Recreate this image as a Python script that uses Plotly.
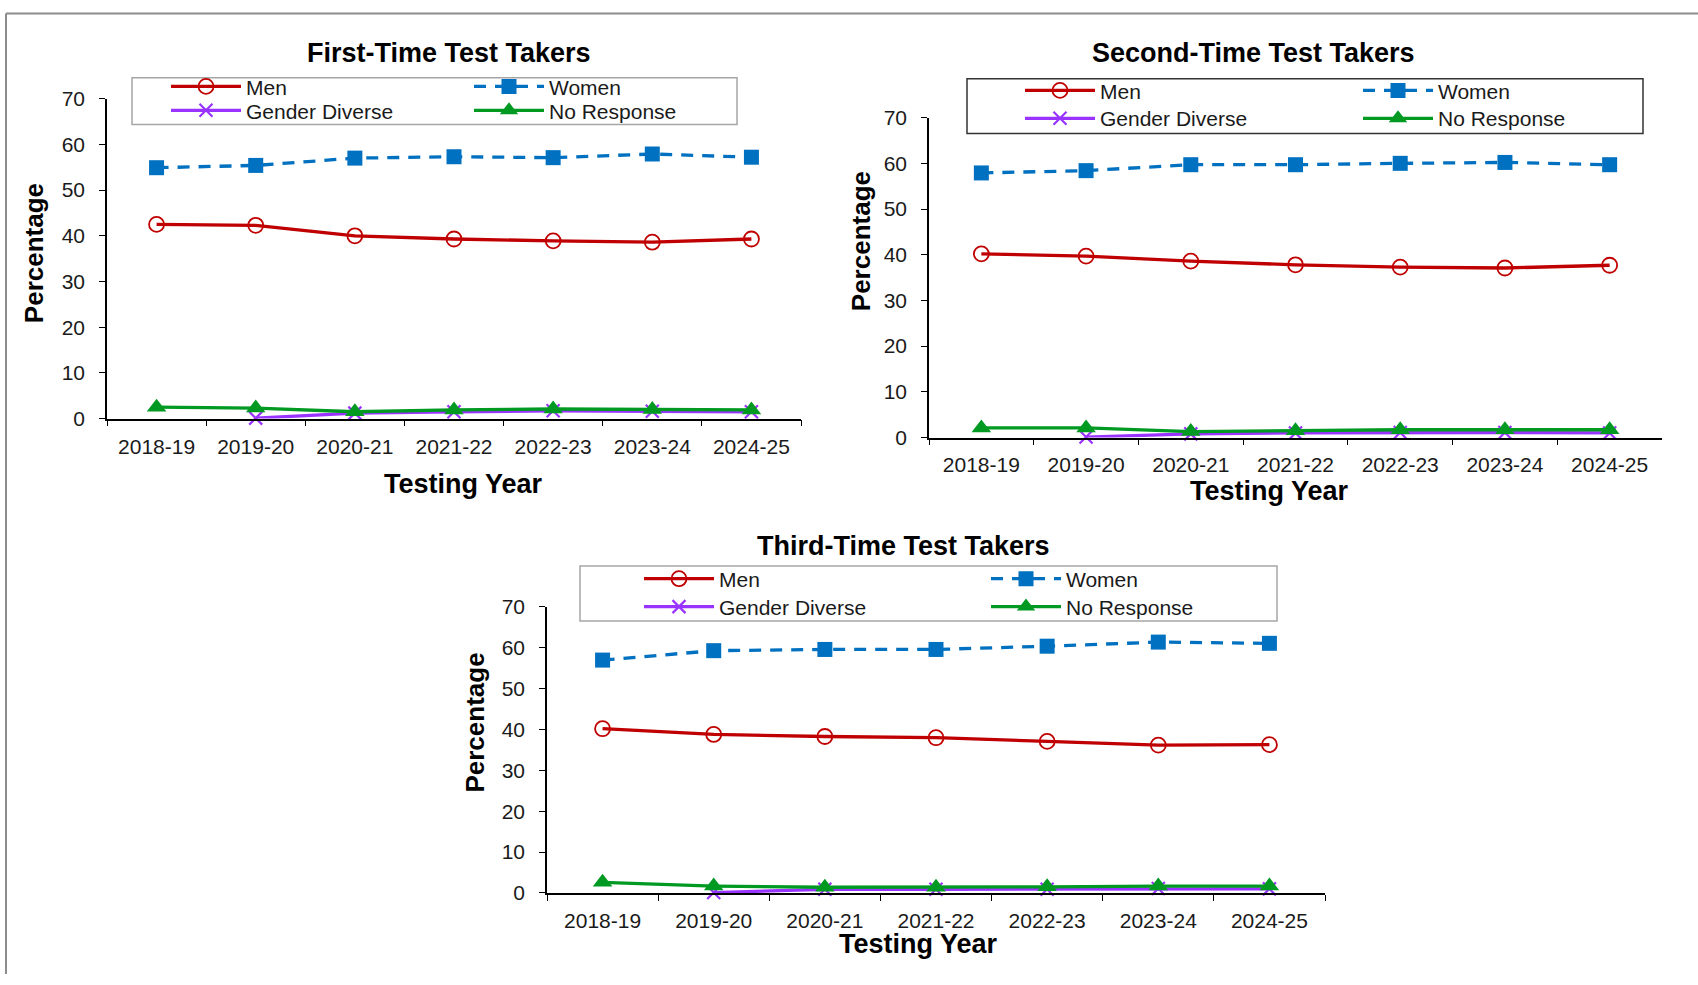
import plotly.graph_objects as go

W, H = 1698, 985

years = ["2018-19", "2019-20", "2020-21", "2021-22", "2022-23", "2023-24", "2024-25"]
series_names = ["Men", "Women", "Gender Diverse", "No Response"]
chart_titles = ["First-Time Test Takers", "Second-Time Test Takers", "Third-Time Test Takers"]

first_men = [42.5, 42.3, 40.0, 39.3, 38.9, 38.6, 39.3]
first_women = [54.9, 55.4, 57.0, 57.3, 57.1, 57.9, 57.2]
first_gd = [None, 0.1, 1.2, 1.5, 1.7, 1.6, 1.5]
first_nr = [2.5, 2.3, 1.5, 1.9, 2.1, 2.0, 1.9]

second_men = [40.2, 39.7, 38.6, 37.8, 37.3, 37.1, 37.7]
second_women = [57.9, 58.4, 59.7, 59.7, 60.0, 60.2, 59.7]
second_gd = [None, 0.1, 0.8, 1.0, 1.1, 1.1, 1.0]
second_nr = [2.1, 2.1, 1.3, 1.5, 1.7, 1.7, 1.7]

third_men = [40.2, 38.8, 38.3, 38.0, 37.1, 36.2, 36.3]
third_women = [57.0, 59.3, 59.6, 59.6, 60.4, 61.4, 61.1]
third_gd = [None, 0.1, 0.9, 0.9, 0.9, 1.1, 1.0]
third_nr = [2.6, 1.7, 1.4, 1.4, 1.5, 1.7, 1.7]

y_ticks = [0, 10, 20, 30, 40, 50, 60, 70]

# observed vertical mapping of the captured page: shown_y = SY * y + OY
SY, OY = 0.98, 10.0


def px(x):
    return x / W


def py(y):
    yf = (y - OY) / SY
    yf = min(max(yf, 0.0), H)
    return 1 - yf / H


FONT = "Liberation Sans, Arial, sans-serif"
TXT = "#1a1a1a"

styles = {
    "Men": dict(line=dict(color="#C00000", width=3.3),
                marker=dict(symbol="circle-open", size=15, color="#C00000", line=dict(width=1.8, color="#C00000"))),
    "Women": dict(line=dict(color="#0070C0", width=3.3, dash="12px,9px"),
                  marker=dict(symbol="square", size=15, color="#0070C0")),
    "Gender Diverse": dict(line=dict(color="#9933FF", width=3.3),
                           marker=dict(symbol="x-thin-open", size=13, color="#9933FF", line=dict(width=2.2, color="#9933FF"))),
    "No Response": dict(line=dict(color="#009A22", width=3.3),
                        marker=dict(symbol="triangle-up", size=17, color="#009A22")),
}

# chart geometry in pixels (as seen in the target picture)
charts = [
    dict(data=[first_men, first_women, first_gd, first_nr],
         x0=107, x1=801, ytop=97, ybot=418,
         title=(449, 51), xt=(463, 484), yt=(34, 252),
         box=(132, 76, 737, 123), boxcol="#A6A6A6",
         colx=(166, 469), rowy=(85, 109)),
    dict(data=[second_men, second_women, second_gd, second_nr],
         x0=929, x1=1662, ytop=116, ybot=437,
         title=(1253, 51), xt=(1269, 491), yt=(861, 240),
         box=(967, 77, 1643, 132), boxcol="#333333",
         colx=(1020, 1358), rowy=(89, 117)),
    dict(data=[third_men, third_women, third_gd, third_nr],
         x0=547, x1=1325, ytop=607, ybot=894,
         title=(903, 546), xt=(919, 945), yt=(475, 723),
         box=(580, 566, 1277, 621), boxcol="#A6A6A6",
         colx=(639, 986), rowy=(579, 607)),
]
# grid position of each series in the legend box: (column, row)
legend_slot = {"Men": (0, 0), "Women": (1, 0), "Gender Diverse": (0, 1), "No Response": (1, 1)}

fig = go.Figure()
layout = dict(
    width=W, height=H, autosize=False,
    margin=dict(l=0, r=0, t=0, b=0),
    paper_bgcolor="white", plot_bgcolor="white",
    font=dict(family=FONT, color=TXT),
    showlegend=True,
)
annotations = []
shapes = []
leg_counter = 0

for ci, ch in enumerate(charts):
    k = ci + 1
    xa = "x" if k == 1 else f"x{k}"
    ya = "y" if k == 1 else f"y{k}"
    for si, name in enumerate(series_names):
        st = styles[name]
        leg_counter += 1
        lname = "legend" if leg_counter == 1 else f"legend{leg_counter}"
        col, row = legend_slot[name]
        layout[lname] = dict(
            x=px(ch["colx"][col]), y=py(ch["rowy"][row]), xanchor="left", yanchor="middle",
            orientation="v", bgcolor="rgba(0,0,0,0)", borderwidth=0,
            font=dict(size=21, color=TXT, family=FONT), itemwidth=70,
            itemclick=False, itemdoubleclick=False,
        )
        fig.add_trace(go.Scatter(
            x=years, y=ch["data"][si], name=name, mode="lines+markers",
            line=st["line"], marker=st["marker"], xaxis=xa, yaxis=ya,
            legend=lname, connectgaps=False, cliponaxis=False,
        ))
    layout["xaxis" if k == 1 else f"xaxis{k}"] = dict(
        domain=[px(ch["x0"]), px(ch["x1"])], anchor=ya,
        type="category", categoryorder="array", categoryarray=years,
        range=[-0.5, 6.5], tickson="boundaries", ticks="outside", ticklen=6,
        tickcolor="black", showline=True, linecolor="black", linewidth=1.5,
        showgrid=False, zeroline=False, fixedrange=True,
        tickfont=dict(size=21, color=TXT, family=FONT), ticklabelstandoff=8,
    )
    layout["yaxis" if k == 1 else f"yaxis{k}"] = dict(
        domain=[py(ch["ybot"]), py(ch["ytop"])], anchor=xa,
        range=[0, 70], tickvals=y_ticks, ticks="outside", ticklen=6,
        tickcolor="black", showline=True, linecolor="black", linewidth=1.5,
        showgrid=False, zeroline=False, fixedrange=True,
        tickfont=dict(size=21, color=TXT, family=FONT), ticklabelstandoff=10,
    )
    annotations.append(dict(text=f"<b>{chart_titles[ci]}</b>", x=px(ch["title"][0]), y=py(ch["title"][1]),
                            xref="paper", yref="paper", showarrow=False, xanchor="center", yanchor="middle",
                            font=dict(size=27, color="black", family=FONT)))
    annotations.append(dict(text="<b>Testing Year</b>", x=px(ch["xt"][0]), y=py(ch["xt"][1]),
                            xref="paper", yref="paper", showarrow=False, xanchor="center", yanchor="middle",
                            font=dict(size=27, color="black", family=FONT)))
    annotations.append(dict(text="<b>Percentage</b>", x=px(ch["yt"][0]), y=py(ch["yt"][1]),
                            xref="paper", yref="paper", showarrow=False, xanchor="center", yanchor="middle",
                            textangle=-90, font=dict(size=26, color="black", family=FONT)))
    bx0, by0, bx1, by1 = ch["box"]
    shapes.append(dict(type="rect", xref="paper", yref="paper", x0=px(bx0), x1=px(bx1), y0=py(by1), y1=py(by0),
                       line=dict(color=ch["boxcol"], width=1.5), fillcolor="rgba(0,0,0,0)", layer="below"))

# outer frame (top and left edges)
shapes.append(dict(type="line", xref="paper", yref="paper", x0=px(6), x1=1, y0=1 - 1.5 / H, y1=1 - 1.5 / H,
                   line=dict(color="#8C8C8C", width=2)))
shapes.append(dict(type="line", xref="paper", yref="paper", x0=px(6), x1=px(6), y0=1 - 1.5 / H, y1=0,
                   line=dict(color="#8C8C8C", width=2)))

layout["annotations"] = annotations
layout["shapes"] = shapes
fig.update_layout(**layout)

# place the fixed-size figure at the page origin (no default body margin)
page_fix = ("document.body.style.margin='0px';document.body.style.padding='0px';"
            "document.body.style.overflow='hidden';"
            "var gd=document.getElementById('{plot_id}');"
            "gd.style.position='fixed';gd.style.left='0px';gd.style.top='0px';")

fig.write_html("out.html", config={"displayModeBar": False}, post_script=page_fix)
